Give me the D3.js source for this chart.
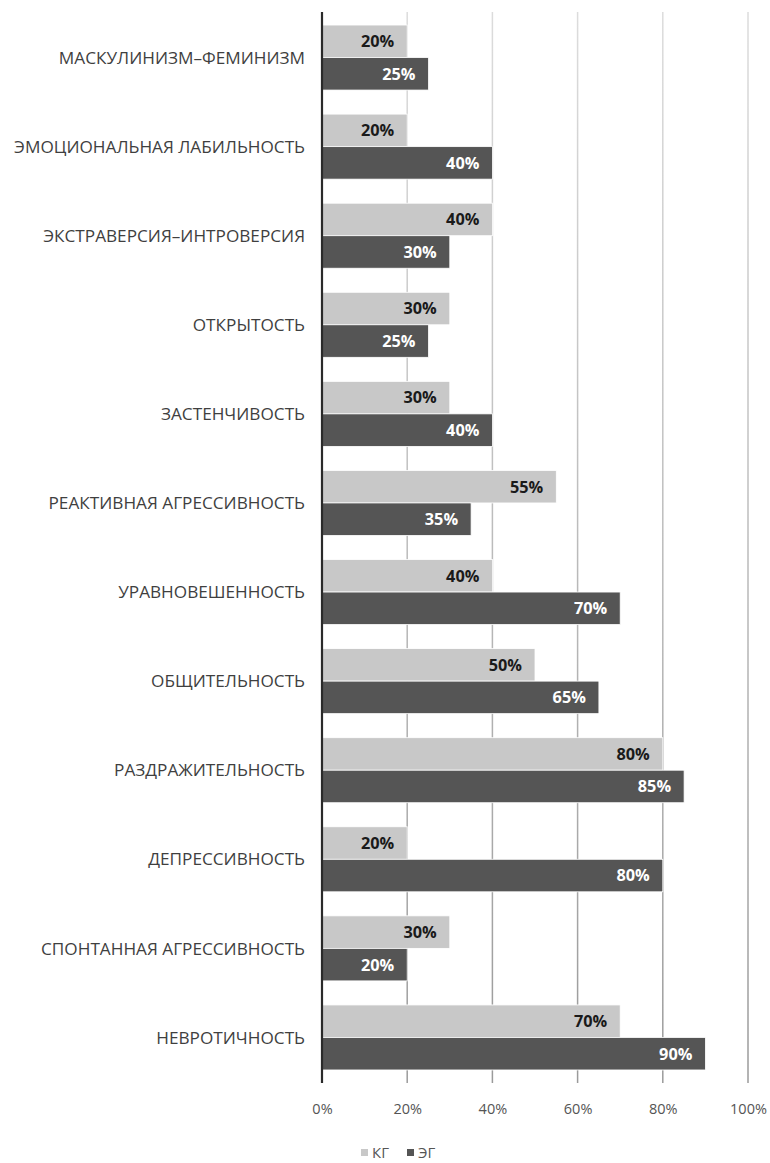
<!DOCTYPE html>
<html>
<head>
<meta charset="utf-8">
<script src="https://cdn.jsdelivr.net/npm/d3@7"></script>
<style>
  html, body { margin: 0; padding: 0; background: #fff; }
  svg { display: block; font-family: "Open Sans", "Noto Sans", sans-serif; }
</style>
</head>
<body>
<svg id="chart" width="770" height="1163"></svg>
<script>
// Personality traits, top to bottom
const categories = [
  "МАСКУЛИНИЗМ–ФЕМИНИЗМ",
  "ЭМОЦИОНАЛЬНАЯ ЛАБИЛЬНОСТЬ",
  "ЭКСТРАВЕРСИЯ–ИНТРОВЕРСИЯ",
  "ОТКРЫТОСТЬ",
  "ЗАСТЕНЧИВОСТЬ",
  "РЕАКТИВНАЯ АГРЕССИВНОСТЬ",
  "УРАВНОВЕШЕННОСТЬ",
  "ОБЩИТЕЛЬНОСТЬ",
  "РАЗДРАЖИТЕЛЬНОСТЬ",
  "ДЕПРЕССИВНОСТЬ",
  "СПОНТАННАЯ АГРЕССИВНОСТЬ",
  "НЕВРОТИЧНОСТЬ"
];
// Control group (КГ), percent
const kgValues = [20, 20, 40, 30, 30, 55, 40, 50, 80, 20, 30, 70];
// Experimental group (ЭГ), percent
const egValues = [25, 40, 30, 25, 40, 35, 70, 65, 85, 80, 20, 90];
const seriesNames = ["КГ", "ЭГ"];
const tickValues = [0, 20, 40, 60, 80, 100];

const svg = d3.select("#chart");
const plotLeft = 322, plotRight = 748, plotTop = 13, plotBottom = 1082;

const x = d3.scaleLinear().domain([0, 100]).range([plotLeft, plotRight]);
const y = d3.scaleBand().domain(categories).range([plotTop, plotBottom])
  .paddingInner(0.27).paddingOuter(0.135);
const sub = d3.scaleBand().domain(seriesNames).range([0, y.bandwidth()]);

const colors = { "КГ": "#c8c8c8", "ЭГ": "#555555" };
const labelColors = { "КГ": "#1a1a1a", "ЭГ": "#ffffff" };

// Gridline shading: lighter near the top, darker towards the axis
const defs = svg.append("defs");
const grad = defs.append("linearGradient")
  .attr("id", "gridShade").attr("gradientUnits", "userSpaceOnUse")
  .attr("x1", 0).attr("y1", plotTop).attr("x2", 0).attr("y2", plotBottom);
grad.append("stop").attr("offset", "0%").attr("stop-color", "#dcdcdc");
grad.append("stop").attr("offset", "100%").attr("stop-color", "#9a9a9a");

// Vertical gridlines with tick marks below the plot
svg.append("g").selectAll("line")
  .data(tickValues.filter(t => t > 0))
  .join("line")
  .attr("x1", d => x(d)).attr("x2", d => x(d))
  .attr("y1", plotTop - 1).attr("y2", plotBottom + 1)
  .attr("stroke", "url(#gridShade)").attr("stroke-width", 1.5);

// Bottom axis tick labels
const xAxis = d3.axisBottom(x).tickValues(tickValues)
  .tickFormat(d => d + "%").tickSize(0).tickPadding(0);
const ax = svg.append("g").attr("transform", `translate(0, ${1104})`).call(xAxis);
ax.select(".domain").remove();
ax.selectAll("text")
  .attr("font-family", "Open Sans, sans-serif")
  .attr("font-size", 14.5).attr("fill", "#555").attr("dy", "0.71em");

// Bars
const rows = categories.map((c, i) => ({ cat: c, values: [
  { key: "КГ", v: kgValues[i] },
  { key: "ЭГ", v: egValues[i] }
]}));

const groups = svg.append("g").selectAll("g")
  .data(rows).join("g")
  .attr("transform", d => `translate(0, ${y(d.cat)})`);

groups.selectAll("rect")
  .data(d => d.values).join("rect")
  .attr("x", x(0))
  .attr("y", d => sub(d.key))
  .attr("width", d => x(d.v) - x(0))
  .attr("height", sub.bandwidth())
  .attr("fill", d => colors[d.key])
  .attr("stroke", "#fff").attr("stroke-width", 0.8);

// Value labels inside the bar ends
groups.selectAll("text.val")
  .data(d => d.values).join("text")
  .attr("class", "val")
  .attr("x", d => x(d.v) - 13)
  .attr("y", d => sub(d.key) + sub.bandwidth() / 2)
  .attr("dy", "0.36em")
  .attr("text-anchor", "end")
  .attr("font-size", 16.3).attr("font-weight", "bold")
  .attr("fill", d => labelColors[d.key])
  .text(d => d.v + "%");

// Category labels
svg.append("g").selectAll("text")
  .data(categories).join("text")
  .attr("x", 305)
  .attr("y", d => y(d) + y.bandwidth() / 2)
  .attr("dy", "0.36em")
  .attr("text-anchor", "end")
  .attr("font-size", 17.2).attr("fill", "#3f3f3f")
  .text(d => d);

// Vertical axis line
svg.append("line")
  .attr("x1", plotLeft).attr("x2", plotLeft)
  .attr("y1", plotTop - 1).attr("y2", plotBottom + 1)
  .attr("stroke", "#2a2a2a").attr("stroke-width", 2.2);

// Legend
const legend = svg.append("g").attr("transform", "translate(361, 1153)");
const legendItems = [{ key: "КГ", dx: 0 }, { key: "ЭГ", dx: 46 }];
const li = legend.selectAll("g").data(legendItems).join("g")
  .attr("transform", d => `translate(${d.dx}, 0)`);
li.append("rect").attr("x", 0).attr("y", -4).attr("width", 7).attr("height", 7)
  .attr("fill", d => colors[d.key]);
li.append("text").attr("x", 11).attr("y", 0).attr("dy", "0.36em")
  .attr("font-size", 15).attr("fill", "#555").text(d => d.key);
</script>
</body>
</html>
